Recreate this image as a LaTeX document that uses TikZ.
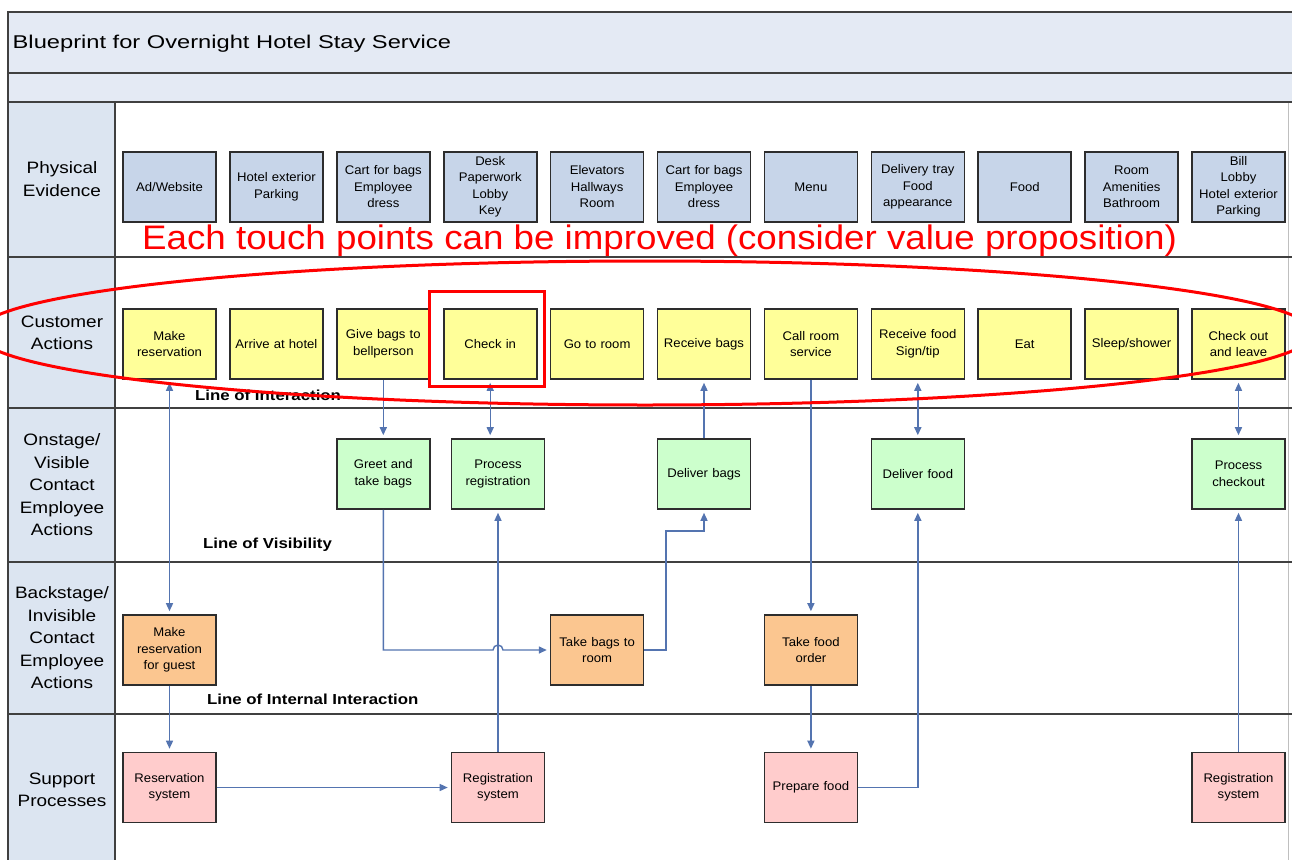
\documentclass[tikz,border=0pt]{standalone}
\usepackage{fontspec}
\setmainfont{Liberation Sans}
\newfontfamily\titlefont[FakeStretch=1.28]{Liberation Sans}
\newfontfamily\lanefont[FakeStretch=1.15]{Liberation Sans}
\newfontfamily\boxfont[FakeStretch=1.05]{Liberation Sans}
\newfontfamily\linefont[FakeStretch=1.16]{Liberation Sans}
\newfontfamily\redfont[FakeStretch=1.08]{Liberation Sans}
\usetikzlibrary{arrows.meta}
\definecolor{titleband}{RGB}{228,234,244}
\definecolor{labelcol}{RGB}{220,229,241}
\definecolor{frameline}{RGB}{64,64,64}
\definecolor{boxline}{RGB}{45,45,45}
\definecolor{physfill}{RGB}{199,213,233}
\definecolor{custfill}{RGB}{255,255,153}
\definecolor{onfill}{RGB}{204,255,204}
\definecolor{backfill}{RGB}{251,198,144}
\definecolor{suppfill}{RGB}{255,204,204}
\definecolor{connblue}{RGB}{84,116,176}
\definecolor{annred}{RGB}{255,0,0}
\begin{document}
\begin{tikzpicture}[x=1pt,y=-1pt,
  frame/.style={draw=frameline,line width=1.8pt},
  faint/.style={draw=black!25,line width=1pt},
  bx/.style={draw=boxline,line width=1.6pt,minimum height=70pt,text width=89pt,inner sep=2pt,
    align=center,font=\boxfont\fontsize{12.5}{16.5}\selectfont},
  phys/.style={bx,fill=physfill},
  cust/.style={bx,fill=custfill},
  onst/.style={bx,fill=onfill},
  back/.style={bx,fill=backfill},
  supp/.style={bx,fill=suppfill},
  lanelabel/.style={align=center,inner sep=0pt,font=\lanefont\fontsize{16.5}{22.5}\selectfont},
  linelabel/.style={anchor=west,inner sep=0pt,font=\linefont\bfseries\fontsize{14.5}{17}\selectfont},
  conn/.style={draw=connblue,line width=1.4pt},
  tip/.style={-{Triangle[length=8pt,width=7pt]},shorten >=3pt},
  bitip/.style={{Triangle[length=8pt,width=7pt]}-{Triangle[length=8pt,width=7pt]},shorten >=3pt,shorten <=3pt},
  annot/.style={draw=annred,line width=3pt}
]
\useasboundingbox (0,0) rectangle (1292,859);
\clip (0,0) rectangle (1292,859);
\fill[white] (0,0) rectangle (1292,859);
% frame and lanes
\fill[titleband] (8,12) rectangle (1300,102);
\fill[labelcol] (8,102) rectangle (115,870);
\draw[faint] (1288,102) -- (1288,870);
\draw[frame] (8,870) -- (8,12) -- (1300,12);
\foreach \yy in {73,102,257,408,562,714} \draw[frame] (8,\yy) -- (1300,\yy);
\draw[frame] (115,102) -- (115,870);
\node[anchor=base west,inner sep=0pt,font=\titlefont\fontsize{18.5}{22}\selectfont] (title) at (12.5,48.5) {Blueprint for Overnight Hotel Stay Service};
% lane labels
\node[lanelabel] (lpe) at (62,179) {Physical\\Evidence};
\node[lanelabel] (lca) at (62,333) {Customer\\Actions};
\node[lanelabel] (lon) at (62,485) {Onstage/\\Visible\\Contact\\Employee\\Actions};
\node[lanelabel] (lba) at (62,638) {Backstage/\\Invisible\\Contact\\Employee\\Actions};
\node[lanelabel] (lsp) at (62,790) {Support\\Processes};
% line labels
\node[linelabel] (loi) at (195,395) {Line of Interaction};
\node[linelabel] (lov) at (203,545) {Line of Visibility};
\node[linelabel] (lii) at (207,699) {Line of Internal Interaction};
% physical evidence
\node[phys] (p0) at (169.5,187) {Ad/Website};
\node[phys] (p1) at (276.4,187) {Hotel exterior\\Parking};
\node[phys] (p2) at (383.3,187) {Cart for bags\\Employee\\dress};
\node[phys] (p3) at (490.2,187) {Desk\\Paperwork\\Lobby\\Key};
\node[phys] (p4) at (597.1,187) {Elevators\\Hallways\\Room};
\node[phys] (p5) at (704.0,187) {Cart for bags\\Employee\\dress};
\node[phys] (p6) at (810.9,187) {Menu};
\node[phys] (p7) at (917.8,187) {Delivery tray\\Food\\appearance};
\node[phys] (p8) at (1024.7,187) {Food};
\node[phys] (p9) at (1131.6,187) {Room\\Amenities\\Bathroom};
\node[phys] (p10) at (1238.5,187) {Bill\\Lobby\\Hotel exterior\\Parking};
% customer actions
\node[cust] (makeres) at (169.5,344) {Make\\reservation};
\node[cust] (arrive) at (276.4,344) {Arrive at hotel};
\node[cust] (givebags) at (383.3,344) {Give bags to\\bellperson};
\node[cust] (checkin) at (490.2,344) {Check in};
\node[cust] (goroom) at (597.1,344) {Go to room};
\node[cust] (recbags) at (704.0,344) {Receive bags};
\node[cust] (callroom) at (810.9,344) {Call room\\service};
\node[cust] (recfood) at (917.8,344) {Receive food\\Sign/tip};
\node[cust] (eat) at (1024.7,344) {Eat};
\node[cust] (sleep) at (1131.6,344) {Sleep/shower};
\node[cust] (checkout) at (1238.5,344) {Check out\\and leave};
% onstage
\node[onst] (greet) at (383.3,474) {Greet and\\take bags};
\node[onst] (procreg) at (498,474) {Process\\registration};
\node[onst] (delbags) at (704.0,474) {Deliver bags};
\node[onst] (delfood) at (917.8,474) {Deliver food};
\node[onst] (proccheck) at (1238.5,474) {Process\\checkout};
% backstage
\node[back] (mrg) at (169.5,650) {Make\\reservation\\for guest};
\node[back] (takebags) at (597.1,650) {Take bags to\\room};
\node[back] (takefood) at (810.9,650) {Take food\\order};
% support
\node[supp] (resv) at (169.5,787.5) {Reservation\\system};
\node[supp] (reg1) at (498,787.5) {Registration\\system};
\node[supp] (prepfood) at (810.9,787.5) {Prepare food};
\node[supp] (reg2) at (1238.5,787.5) {Registration\\system};
% connectors
\draw[conn,bitip] (makeres.south) -- (mrg.north);
\draw[conn,tip] (mrg.south) -- (resv.north);
\draw[conn,tip] (resv.east) -- (reg1.west);
\draw[conn,tip] (reg1.north) -- (procreg.south);
\draw[conn,tip] (givebags.south) -- (greet.north);
\draw[conn,tip] (greet.south) |- (493,650) arc[start angle=180,end angle=0,radius=5pt] -- (takebags.west);
\draw[conn,tip] (takebags.east) -| (666,531) -| (delbags.south);
\draw[conn,tip] (delbags.north) -- (recbags.south);
\draw[conn,bitip] (checkin.south) -- (checkin.south |- procreg.north);
\draw[conn,tip] (callroom.south) -- (takefood.north);
\draw[conn,tip] (takefood.south) -- (prepfood.north);
\draw[conn,tip] (prepfood.east) -| (delfood.south);
\draw[conn,bitip] (recfood.south) -- (delfood.north);
\draw[conn,bitip] (checkout.south) -- (proccheck.north);
\draw[conn,tip] (reg2.north) -- (proccheck.south);
% red annotations
\node[anchor=base west,inner sep=0pt,text=annred,font=\redfont\fontsize{34}{40}\selectfont] (note) at (142,249) {Each touch points can be improved (consider value proposition)};
\draw[annot] (645,333) ellipse [x radius=668pt,y radius=72pt];
\draw[annot] (429,291) rectangle (544,386);
\end{tikzpicture}
\end{document}
